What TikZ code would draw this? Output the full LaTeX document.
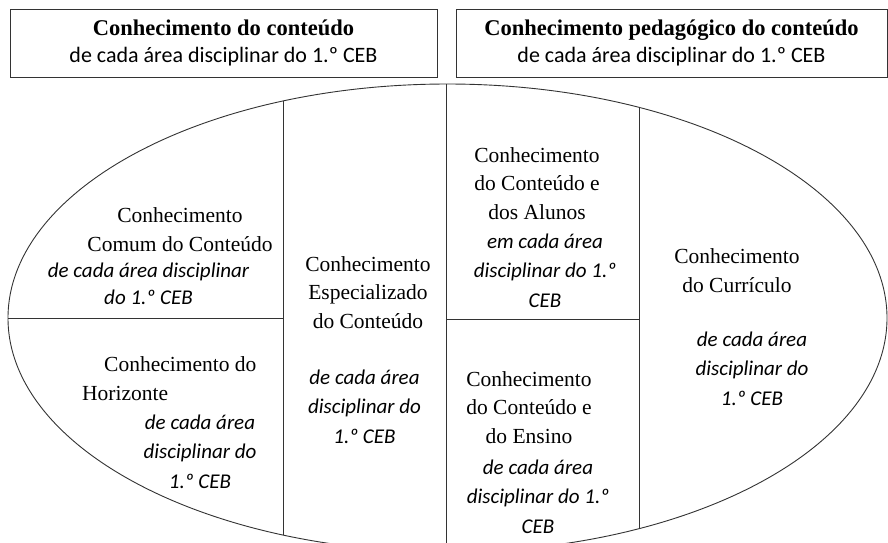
\documentclass[tikz,border=0pt]{standalone}
\usepackage{fontspec}
\setmainfont{Liberation Serif}
\newfontfamily\calibri{Carlito}

\tikzset{
    rim/.style={line width=0.9pt, draw=black!80},
    headbox/.style={draw=black!80, line width=0.9pt, minimum height=68pt, inner sep=0pt, align=center,
        font=\fontsize{22}{27}\selectfont},
    celltext/.style={font=\fontsize{21.5}{28.5}\selectfont, align=center, inner sep=0pt, anchor=base},
    areatext/.style={font=\calibri\itshape\fontsize{21}{29.5}\selectfont, align=center, inner sep=0pt, anchor=base},
}

\begin{document}
\begin{tikzpicture}[x=1pt, y=-1pt]
    \useasboundingbox (0,0) rectangle (888,542);

    % Top boxes
    \node[headbox, minimum width=427pt] (conteudo) at (223.5,43)
        {\textbf{\fontsize{22.5}{27}\selectfont Conhecimento do conteúdo}\\{\calibri de cada área disciplinar do 1.º CEB}};
    \node[headbox, minimum width=431pt] (pedagogico) at (671.5,43)
        {\textbf{\fontsize{22.5}{27}\selectfont Conhecimento pedagógico do conteúdo}\\{\calibri de cada área disciplinar do 1.º CEB}};

    % Ellipse and its parts
    \draw[rim] (447.5,318) ellipse [x radius=439.5, y radius=234];
    \begin{scope}
        \clip (447.5,318) ellipse [x radius=439.5, y radius=234];
        \draw[rim] (283,0) -- (283,560);
        \draw[rim] (446,0) -- (446,560);
        \draw[rim] (639,0) -- (639,560);
        \draw[rim] (0,318) -- (283,318);
        \draw[rim] (446,319) -- (639,319);
    \end{scope}

    % Left column (nodes sit on the baseline of their last line)
    \node[celltext] (comum) at (180,251) {Conhecimento\\Comum do Conteúdo};
    \node[areatext, font=\calibri\itshape\fontsize{21}{27}\selectfont] (comumarea) at (148.5,304) {de cada área disciplinar\\do 1.º CEB};
    \node[celltext, anchor=base west, align=left] (horiz) at (82,400) {\hspace*{22pt}Conhecimento do\\Horizonte};
    \node[areatext] (horizarea) at (200,488) {de cada área\\disciplinar do\\1.º CEB};

    % Middle column
    \node[celltext] (espec) at (368,328) {Conhecimento\\Especializado\\do Conteúdo};
    \node[areatext] (especarea) at (364.5,443) {de cada área\\disciplinar do\\1.º CEB};

    % Students and teaching
    \node[celltext] (alunos) at (537,219) {Conhecimento\\do Conteúdo e\\dos Alunos};
    \node[areatext] (alunosarea) at (545,307) {em cada área\\disciplinar do 1.º\\CEB};
    \node[celltext] (ensino) at (529,443) {Conhecimento\\do Conteúdo e\\do Ensino};
    \node[areatext] (ensinoarea) at (538,533) {de cada área\\disciplinar do 1.º\\CEB};

    % Right column
    \node[celltext] (curric) at (737,292) {Conhecimento\\do Currículo};
    \node[areatext] (curricarea) at (752,405) {de cada área\\disciplinar do\\1.º CEB};
\end{tikzpicture}
\end{document}
